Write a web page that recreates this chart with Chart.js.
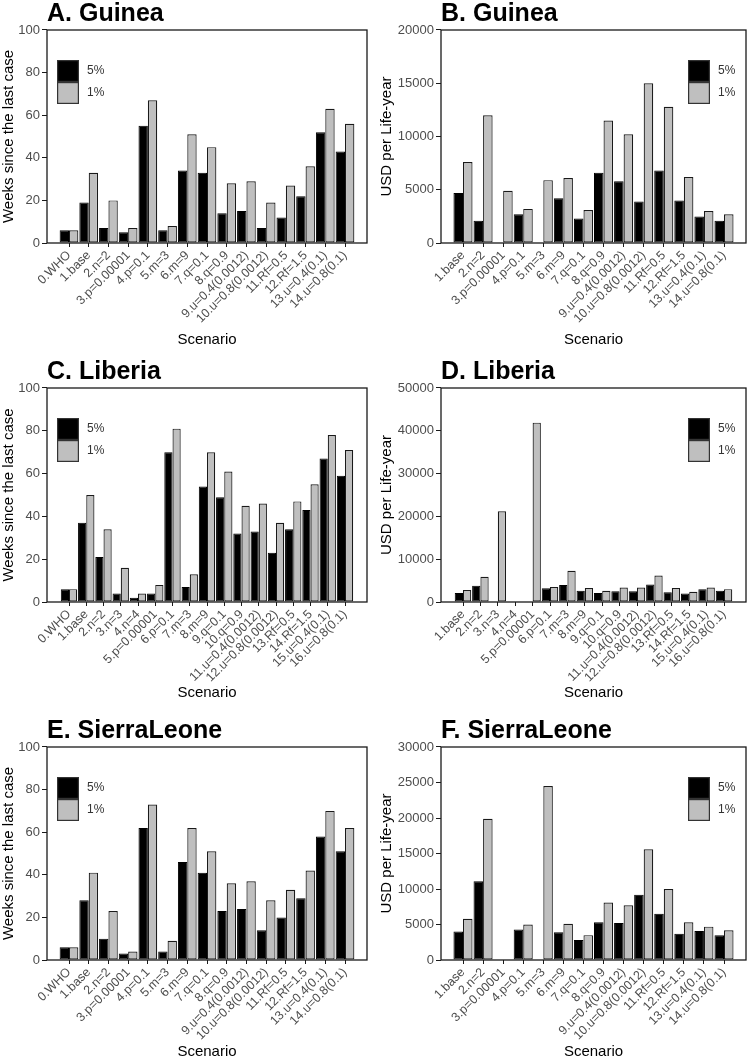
<!DOCTYPE html>
<html><head><meta charset="utf-8">
<script src="https://cdn.jsdelivr.net/npm/chart.js@4/dist/chart.umd.min.js"></script>
<style>
html,body{margin:0;padding:0;background:#fff;}
body{width:749px;height:1061px;position:relative;overflow:hidden;}
canvas{position:absolute;display:block;}
</style></head><body>
<canvas id="cA" width="374" height="349" style="left:0px;top:0px;width:374px;height:349px"></canvas>
<canvas id="cB" width="375" height="349" style="left:374px;top:0px;width:375px;height:349px"></canvas>
<canvas id="cC" width="374" height="344" style="left:0px;top:358px;width:374px;height:344px"></canvas>
<canvas id="cD" width="375" height="344" style="left:374px;top:358px;width:375px;height:344px"></canvas>
<canvas id="cE" width="374" height="344" style="left:0px;top:717px;width:374px;height:344px"></canvas>
<canvas id="cF" width="375" height="344" style="left:374px;top:717px;width:375px;height:344px"></canvas>
<script>
// ---------- data ----------
const guineaScenarios = ['0.WHO','1.base','2.n=2','3.p=0.00001','4.p=0.1','5.m=3','6.m=9','7.q=0.1','8.q=0.9','9.u=0.4(0.0012)','10.u=0.8(0.0012)','11.Rf=0.5','12.Rf=1.5','13.u=0.4(0.1)','14.u=0.8(0.1)'];
const guineaCostScenarios = ['1.base','2.n=2','3.p=0.00001','4.p=0.1','5.m=3','6.m=9','7.q=0.1','8.q=0.9','9.u=0.4(0.0012)','10.u=0.8(0.0012)','11.Rf=0.5','12.Rf=1.5','13.u=0.4(0.1)','14.u=0.8(0.1)'];
const liberiaScenarios = ['0.WHO','1.base','2.n=2','3.n=3','4.n=4','5.p=0.00001','6.p=0.1','7.m=3','8.m=9','9.q=0.1','10.q=0.9','11.u=0.4(0.0012)','12.u=0.8(0.0012)','13.Rf=0.5','14.Rf=1.5','15.u=0.4(0.1)','16.u=0.8(0.1)'];
const liberiaCostScenarios = ['1.base','2.n=2','3.n=3','4.n=4','5.p=0.00001','6.p=0.1','7.m=3','8.m=9','9.q=0.1','10.q=0.9','11.u=0.4(0.0012)','12.u=0.8(0.0012)','13.Rf=0.5','14.Rf=1.5','15.u=0.4(0.1)','16.u=0.8(0.1)'];
const sierraScenarios = ['0.WHO','1.base','2.n=2','3.p=0.00001','4.p=0.1','5.m=3','6.m=9','7.q=0.1','8.q=0.9','9.u=0.4(0.0012)','10.u=0.8(0.0012)','11.Rf=0.5','12.Rf=1.5','13.u=0.4(0.1)','14.u=0.8(0.1)'];
const sierraCostScenarios = ['1.base','2.n=2','3.p=0.00001','4.p=0.1','5.m=3','6.m=9','7.q=0.1','8.q=0.9','9.u=0.4(0.0012)','10.u=0.8(0.0012)','11.Rf=0.5','12.Rf=1.5','13.u=0.4(0.1)','14.u=0.8(0.1)'];

const seriesLabels = ['5%','1%'];

const guineaWeeks5 = [6,19,7,5,55,6,34,33,14,15,7,12,22,52,43];
const guineaWeeks1 = [6,33,20,7,67,8,51,45,28,29,19,27,36,63,56];
const guineaUsd5 = [4700,2100,null,2700,null,4200,2300,6600,5800,3900,6800,4000,2500,2100];
const guineaUsd1 = [7600,12000,4900,3200,5900,6100,3100,11500,10200,15000,12800,6200,3000,2700];

const liberiaWeeks5 = [6,37,21,4,2,4,70,7,54,49,32,33,23,34,43,67,59];
const liberiaWeeks1 = [6,50,34,16,4,8,81,13,70,61,45,46,37,47,55,78,71];
const liberiaUsd5 = [2100,3800,null,null,null,3200,4000,2600,2100,2500,2500,4100,2300,2000,3000,2600];
const liberiaUsd1 = [2800,5900,21200,null,41900,3500,7300,3300,2600,3400,3400,6200,3300,2400,3400,3000];

const sierraWeeks5 = [6,28,10,3,62,4,46,41,23,24,14,20,29,58,51];
const sierraWeeks1 = [6,41,23,4,73,9,62,51,36,37,28,33,42,70,62];
const sierraUsd5 = [4000,11100,null,4300,null,3900,2800,5300,5200,9200,6500,3700,4100,3500];
const sierraUsd1 = [5800,19900,null,5000,24500,5100,3500,8100,7700,15600,10000,5300,4700,4200];

const weeksTicks = {max:100, step:20};
const guineaUsdTicks = {max:20000, step:5000};
const liberiaUsdTicks = {max:50000, step:10000};
const sierraUsdTicks = {max:30000, step:5000};

// ---------- style ----------
const FONT = '"Liberation Sans", Arial, Helvetica, sans-serif';
const TICKC = '#4d4d4d';
const FRAME = '#1a1a1a';
const EDGE = 22;

const framePlugin = {
  id:'frame',
  afterDatasetsDraw(chart){
    const ca = chart.chartArea, ctx = chart.ctx;
    ctx.save();
    ctx.strokeStyle = FRAME; ctx.lineWidth = 1.3;
    ctx.strokeRect(ca.left, ca.top, ca.right-ca.left, ca.bottom-ca.top);
    ctx.restore();
  }
};
const legendPlugin = {
  id:'boxLegend',
  afterDraw(chart, args, opts){
    const ca = chart.chartArea, ctx = chart.ctx;
    const bw = 22, bh = 22;
    const x0 = opts.side === 'left' ? ca.left + 10 : ca.right - 58;
    const y0 = ca.top + 30;
    ctx.save();
    chart.data.datasets.forEach((ds,i)=>{
      const y = y0 + i*bh;
      ctx.fillStyle = ds.backgroundColor;
      ctx.fillRect(x0, y, bw, bh);
      ctx.strokeStyle = '#333'; ctx.lineWidth = 1.2;
      ctx.strokeRect(x0+0.6, y+0.6, bw-1.2, bh-1.2);
      ctx.fillStyle = '#333';
      ctx.font = '12px ' + FONT;
      ctx.textBaseline = 'middle'; ctx.textAlign = 'left';
      ctx.fillText(ds.label, x0 + bw + 8, y + bh/2);
    });
    ctx.restore();
  }
};

function makeChart(id, o){
  const n = o.labels.length;
  const catW = (o.plotW - 2*EDGE)/(n-1);
  const pad = EDGE/catW;
  new Chart(document.getElementById(id), {
    type:'bar',
    data:{datasets:[
      {label:seriesLabels[0], data:o.v5.map((v,i)=>({x:i,y:v})), backgroundColor:'#000000', borderColor:'#000000', borderWidth:1, borderSkipped:false},
      {label:seriesLabels[1], data:o.v1.map((v,i)=>({x:i,y:v})), backgroundColor:'#bfbfbf', borderColor:'#1a1a1a', borderWidth:1.2, borderSkipped:false}
    ]},
    options:{
      responsive:false, animation:false, devicePixelRatio:1,
      layout:{padding:{left:0,right:o.padR,top:0,bottom:0}},
      datasets:{bar:{categoryPercentage:0.95, barPercentage:1.0}},
      plugins:{
        legend:{display:false}, tooltip:{enabled:false},
        title:{display:true, text:o.title, align:'start', fullSize:false, color:'#000',
               font:{family:FONT, size:25, weight:'bold', lineHeight:1.16}, padding:{top:0,bottom:1}},
        boxLegend:{side:o.legendSide}
      },
      scales:{
        x:{type:'linear', min:-pad, max:n-1+pad, offset:false,
          afterFit:s=>{s.height=o.xH;},
          afterBuildTicks:s=>{s.ticks=o.labels.map((_,i)=>({value:i}));},
          ticks:{autoSkip:false, minRotation:45, maxRotation:45, color:TICKC,
                 font:{family:FONT,size:12.5}, padding:1, callback:(v)=>o.labels[v]},
          grid:{drawOnChartArea:false, drawTicks:true, tickLength:4, color:FRAME, offset:false},
          border:{display:false},
          title:{display:true, text:'Scenario', color:'#000', font:{family:FONT,size:15}, padding:{top:0,bottom:0}}
        },
        y:{min:0, max:o.ticks.max,
          afterFit:s=>{s.width=o.yW;},
          ticks:{stepSize:o.ticks.step, color:TICKC, font:{family:FONT,size:13}, padding:2, callback:(v)=>String(v)},
          grid:{drawOnChartArea:false, drawTicks:true, tickLength:5, color:FRAME},
          border:{display:false},
          title:{display:true, text:o.yTitle, color:'#000', font:{family:FONT,size:15}, padding:{top:o.yTitlePad,bottom:0}}
        }
      }
    },
    plugins:[framePlugin, legendPlugin]
  });
}

const WEEKS = 'Weeks since the last case';
const USD = 'USD per Life-year';
const L = {yW:47, padR:7, plotW:320, yTitlePad:0, legendSide:'left', yTitle:WEEKS};
const R = {yW:67, padR:3, plotW:305, yTitlePad:4, legendSide:'right', yTitle:USD};

makeChart('cA', Object.assign({}, L, {title:'A. Guinea', labels:guineaScenarios, v5:guineaWeeks5, v1:guineaWeeks1, ticks:weeksTicks, xH:106}));
makeChart('cB', Object.assign({}, R, {title:'B. Guinea', labels:guineaCostScenarios, v5:guineaUsd5, v1:guineaUsd1, ticks:guineaUsdTicks, xH:106}));
makeChart('cC', Object.assign({}, L, {title:'C. Liberia', labels:liberiaScenarios, v5:liberiaWeeks5, v1:liberiaWeeks1, ticks:weeksTicks, xH:100}));
makeChart('cD', Object.assign({}, R, {title:'D. Liberia', labels:liberiaCostScenarios, v5:liberiaUsd5, v1:liberiaUsd1, ticks:liberiaUsdTicks, xH:100}));
makeChart('cE', Object.assign({}, L, {title:'E. SierraLeone', labels:sierraScenarios, v5:sierraWeeks5, v1:sierraWeeks1, ticks:weeksTicks, xH:101}));
makeChart('cF', Object.assign({}, R, {title:'F. SierraLeone', labels:sierraCostScenarios, v5:sierraUsd5, v1:sierraUsd1, ticks:sierraUsdTicks, xH:101}));
</script>
</body></html>
